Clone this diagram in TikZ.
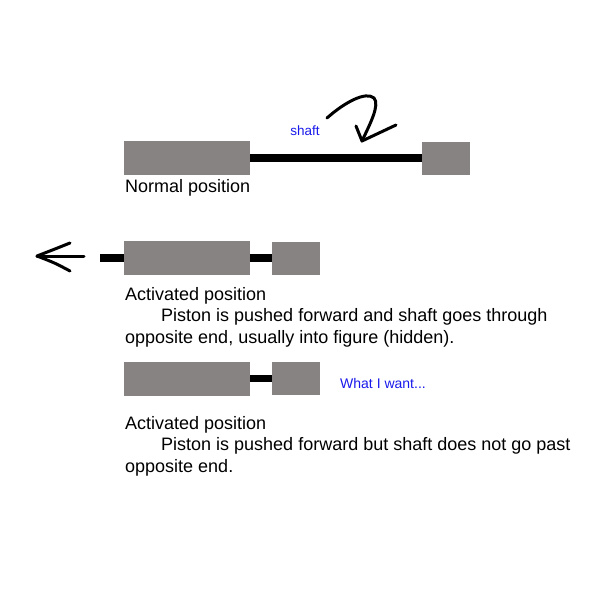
\documentclass[tikz,border=0pt]{standalone}
\usepackage{fontspec}
\setmainfont{Liberation Sans}
\usetikzlibrary{positioning,calc}
\definecolor{pistongrey}{RGB}{135,131,131}
\definecolor{notblue}{RGB}{25,25,235}

\begin{document}
\begin{tikzpicture}[x=1pt,y=-1pt,line cap=round,line join=round,
  cylbody/.style={fill=pistongrey,draw=none,minimum width=126pt,minimum height=34pt,inner sep=0pt},
  cylcap/.style={fill=pistongrey,draw=none,minimum width=48pt,minimum height=33pt,inner sep=0pt},
  rod/.style={line width=7.5pt,line cap=butt,black},
  pen/.style={line width=3pt,black},
  caption/.style={anchor=north west,inner sep=0pt,align=left,font=\fontsize{18}{21.7}\selectfont},
  remark/.style={text=notblue,inner sep=0pt,font=\fontsize{13.5}{15}\selectfont}]

\useasboundingbox (0,0) rectangle (600,600);

%normal position
\node[cylbody] (body1) at (187,158) {};
\node[cylcap] (cap1) at (446,158) {};
\draw[rod] (body1.east) -- (cap1.west);
\node[remark] (shaftlbl) at (305,131) {shaft};
\node[caption] (normal) at (125,179) {Normal position};

%hand drawn pointer to the shaft
\coordinate (swirltip) at (362,141);
\draw[pen] (327,118) .. controls (345,102) and (366,91) .. (374,98)
  .. controls (380,105) and (370,124) .. (swirltip);
\draw[pen] (356,126) -- (swirltip) -- (396,125);

%activated position (shaft goes through)
\node[cylbody] (body2) at (187,258) {};
\node[cylcap] (cap2) at (296,258) {};
\draw[rod] (body2.east) -- (cap2.west);
\coordinate (rodend2) at (100,258);
\draw[rod] (rodend2) -- (body2.west);
\coordinate (pushtail) at (84,256);
\coordinate (pushtip) at (37,256);
\draw[pen] (pushtail) -- (pushtip);
\draw[pen] (70,243) .. controls (55,249) .. (pushtip) .. controls (55,263) .. (70,271);
\node[caption] (note2) at (125,287)
  {Activated position\\\hspace*{36pt}Piston is pushed forward and shaft goes through\\opposite end, usually into figure (hidden).};

%activated position (wanted)
\node[cylbody] (body3) at (187,378.5) {};
\node[cylcap] (cap3) at (296,378.5) {};
\draw[rod] (body3.east) -- (cap3.west);
\node[remark,anchor=west,font=\fontsize{14}{16}\selectfont] (wish) at (340,383) {What I want...};
\node[caption] (note3) at (125,416)
  {Activated position\\\hspace*{36pt}Piston is pushed forward but shaft does not go past\\opposite end.};

\end{tikzpicture}
\end{document}
